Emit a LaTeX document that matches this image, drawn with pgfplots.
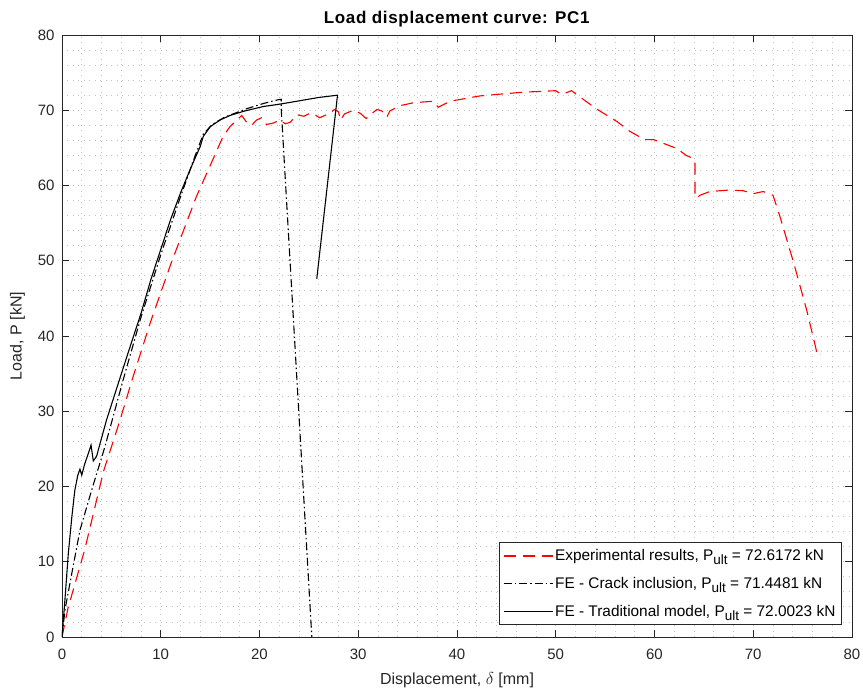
\documentclass[border=0pt]{standalone}
\usepackage{pgfplots}
\pgfplotsset{compat=1.18}
\usepackage{fontspec}
\setmainfont{Liberation Sans}
\definecolor{axgray}{RGB}{38,38,38}
\definecolor{gridgray}{RGB}{195,195,195}
\newcommand\ult{\raisebox{-4pt}{\fontsize{13.5}{13.5}\selectfont ult}}
\begin{document}
\begin{tikzpicture}
\begin{axis}[
 scale only axis, width=790pt, height=602pt,
 xmin=0,xmax=80,ymin=0,ymax=80,
 xtick={0,10,...,80}, ytick={0,10,...,80},
 minor tick num=4,
 grid=both,
 major grid style={gridgray, line width=0.8pt, dash pattern=on 0.9pt off 4.6pt},
 minor grid style={gridgray, line width=0.8pt, dash pattern=on 0.9pt off 4.6pt},
 tick align=inside, major tick length=7pt, minor tick length=0pt,
 xtick pos=both, ytick pos=both,
 axis line style={axgray, line width=0.6pt},
 tick style={axgray, line width=0.6pt},
 tick label style={font=\fontsize{15}{17}\selectfont, text=axgray},
 xticklabel style={yshift=-8pt},
 yticklabel style={xshift=-4pt},
 /pgf/number format/assume math mode=true,
 title={\addfontfeature{LetterSpace=4}\textbf{Load displacement curve: PC1}},
 title style={font=\fontsize{17}{19}\selectfont, text=black, yshift=-2pt},
 xlabel={Displacement, $\delta$ [mm]},
 ylabel={Load, P [kN]},
 label style={font=\fontsize{16}{19}\selectfont, text=axgray},
 xlabel style={yshift=-6pt},
 ylabel style={yshift=6pt},
 legend style={at={(0.987,0.02)}, anchor=south east, draw=axgray, line width=0.6pt,
   font=\fontsize{15.4}{17}\selectfont, row sep=11pt, inner xsep=4pt, inner ysep=5pt},
 legend cell align=left,
 legend image code/.code={\draw[#1] (0pt,0pt) -- (49pt,0pt);},
]
\addplot[red, line width=1.1pt, dash pattern=on 12pt off 7pt] coordinates {
(0,0) (0.6,3.8) (2.3,11.6) (4.2,22.0) (5.8,28.5) (7.2,34.6) (9,42) (11,49.5) (13.6,58.5)
(15.7,64.7) (16.3,66.5) (17.0,67.8) (17.7,68.7) (18.2,69.3) (18.7,68.4) (19.2,68.0)
(19.7,68.7) (20.2,69.0) (20.7,68.1) (21.4,68.3) (22.1,68.7) (22.6,68.2) (23.1,68.4)
(23.8,69.4) (24.5,69.2) (25.1,69.6) (25.6,69.4) (26.1,69.0) (26.6,69.3) (27.1,69.6)
(27.6,70.1) (28.0,69.8) (28.2,68.7) (28.6,69.5) (29.5,70.0) (30.2,69.6) (30.8,68.9)
(31.4,69.6) (31.9,70.1) (32.4,69.9) (32.9,69.1) (33.2,69.9) (34.2,70.6) (35.6,71.0)
(37.6,71.2) (38.1,70.4) (39.3,71.2) (42.3,71.9) (44,72.1) (46.7,72.4) (50.0,72.6)
(50.6,72.1) (51.6,72.6) (52.1,72.1) (54.1,70.2) (56.2,68.5) (57.5,67.2) (57.9,66.9)
(59.0,66.1) (59.9,66.1) (60.9,65.6) (62.3,64.9) (63.2,64.0) (63.9,63.6) (64.1,62.9)
(64.1,59.0) (64.3,58.3) (64.6,58.7) (65.6,59.2) (67.6,59.4) (69.0,59.3) (70.0,58.9)
(70.3,59.0) (71.0,59.2) (72.0,58.7) (72.7,55.9) (74.1,49.7) (75.4,43.5) (76.3,38.6)
(76.5,37.4) (76.8,37.6)
};
\addlegendentry{Experimental results, P\ult{} = 72.6172 kN}
\addplot[black, line width=1.1pt, dash pattern=on 8pt off 3pt on 1.5pt off 3pt] coordinates {
(0,0) (0.3,3.6) (1.0,8.5) (1.82,14.2) (3.0,19.5) (4.35,25.3) (6.2,34.2) (8,42.5)
(10,50.8) (12,58.5) (13.5,64) (14.3,66.8) (15.2,68.1) (16.5,69.1) (18.7,70.2)
(20.4,70.9) (21.9,71.4) (22.2,71.45) (22.2,70.2) (25.3,0)
};
\addlegendentry{FE - Crack inclusion, P\ult{} = 71.4481 kN}
\addplot[black, line width=1.1pt] coordinates {
(0,0) (0.3,5) (0.64,11.1) (1.0,16) (1.3,19.5) (1.6,21.5) (1.82,22.3) (2.0,21.5)
(2.3,23) (2.67,24.4) (2.94,25.5) (3.17,23.4) (3.5,24.0) (4.5,28.8) (5.87,34.4)
(7,39) (8,43) (9,47.5) (10,51.5) (11,55.5) (12,59) (13,62.2) (14,65.2) (14.3,66.5)
(15.0,67.8) (16,68.7) (17,69.3) (18.5,69.9) (20.4,70.5) (22,70.8) (23.8,71.2)
(26,71.7) (27.9,72.0) (25.8,47.6)
};
\addlegendentry{FE - Traditional model, P\ult{} = 72.0023 kN}
\end{axis}
\pgfresetboundingbox
\path[use as bounding box] ([shift={(-62pt,-56pt)}]current axis.south west) rectangle ++(863pt,693pt);
\end{tikzpicture}
\end{document}
